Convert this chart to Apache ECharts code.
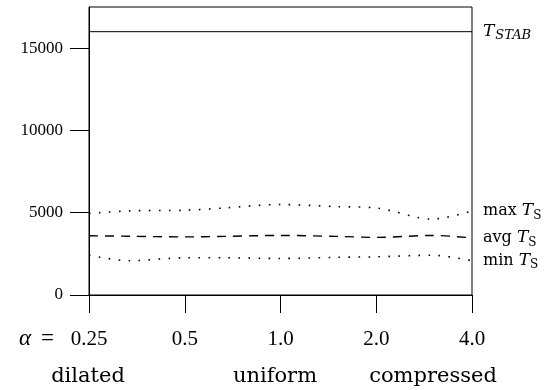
<!DOCTYPE html>
<html>
<head>
<meta charset="utf-8">
<script src="https://cdn.jsdelivr.net/npm/echarts@6/dist/echarts.min.js"></script>
<style>
  html, body { margin: 0; padding: 0; background: #fff; }
  #chart1 { width: 549px; height: 390px; }
</style>
</head>
<body>
<div id="chart1"></div>
<script>
// alpha values where T_S was measured (log2 spaced axis)
const alphas = [0.25, 1 / 3, 0.5, 2 / 3, 1, 1.5, 2, 3, 4];
const maxTs = [4950, 5110, 5150, 5290, 5500, 5370, 5290, 4610, 5100];
const avgTs = [3600, 3570, 3530, 3560, 3620, 3560, 3500, 3620, 3470];
const minTs = [2420, 2080, 2260, 2260, 2220, 2290, 2320, 2420, 2080];
const tStab = 16000;

const xTickValues = [0.25, 0.5, 1, 2, 4];
const xTickLabels = ['0.25', '0.5', '1.0', '2.0', '4.0'];
const yTickValues = [0, 5000, 10000, 15000];
const regimeLabels = ['dilated', 'uniform', 'compressed'];

let option;
let chart1;

const serif = 'Liberation Serif';
const wideSerif = 'DejaVu Serif';

const pairs = (ys) => alphas.map((a, i) => [a, ys[i]]);

const endLabel = (name) => ({
    show: true,
    distance: 11,
    formatter: '{n|' + name + ' }{t|T}{s|S}',
    rich: {
        n: { fontFamily: wideSerif, fontSize: 16, color: '#000' },
        t: { fontFamily: wideSerif, fontStyle: 'italic', fontSize: 17, color: '#000' },
        s: { fontFamily: wideSerif, fontSize: 12, color: '#000', padding: [9, 0, 0, 0] }
    }
});

const getOptionChart1 = () => {
    return {
        animation: false,
        grid: {
            left: 89, right: 77, top: 7, bottom: 95,
            show: true, borderColor: '#000', borderWidth: 1,
            outerBoundsMode: 'none'
        },
        xAxis: {
            type: 'log',
            logBase: 2,
            min: 0.25,
            max: 4,
            axisLine: { lineStyle: { color: '#000', width: 1 } },
            axisTick: { show: true, length: 18, lineStyle: { color: '#000' }, customValues: xTickValues },
            axisLabel: {
                customValues: xTickValues,
                margin: 34,
                fontFamily: serif,
                fontSize: 21,
                color: '#000',
                formatter: (v) => {
                    const i = xTickValues.findIndex(t => Math.abs(t - v) < 1e-6);
                    return i >= 0 ? xTickLabels[i] : '';
                }
            },
            splitLine: { show: false },
            minorTick: { show: false }
        },
        yAxis: {
            type: 'value',
            min: 0,
            max: 17500,
            interval: 5000,
            axisLine: { show: true, lineStyle: { color: '#000', width: 1 } },
            axisTick: { show: true, length: 19, lineStyle: { color: '#000' }, customValues: yTickValues },
            axisLabel: {
                customValues: yTickValues,
                margin: 26,
                fontFamily: serif,
                fontSize: 17,
                color: '#000',
                formatter: (v) => String(v)
            },
            splitLine: { show: false }
        },
        graphic: [
            {
                type: 'text', left: 19, top: 327,
                style: {
                    text: '{a|α}{e|=}',
                    rich: {
                        a: { fontFamily: serif, fontStyle: 'italic', fontSize: 23 },
                        e: { fontFamily: serif, fontSize: 23, padding: [0, 0, 0, 10] }
                    },
                    font: '21px ' + serif, fill: '#000'
                }
            },
            ...regimeLabels.map((t, i) => ({
                type: 'text',
                x: [88, 275, 433][i], y: 377,
                style: {
                    text: t, font: '21px ' + wideSerif, fill: '#000',
                    align: 'center', verticalAlign: 'middle'
                }
            }))
        ],
        series: [
            {
                name: 'T_STAB', type: 'line', symbol: 'none',
                data: [[alphas[0], tStab], [alphas[alphas.length - 1], tStab]],
                lineStyle: { color: '#000', width: 1 },
                endLabel: {
                    show: true, distance: 11,
                    formatter: '{t|T}{s|STAB}',
                    rich: {
                        t: { fontFamily: wideSerif, fontStyle: 'italic', fontSize: 17, color: '#000' },
                        s: { fontFamily: wideSerif, fontStyle: 'italic', fontSize: 13, color: '#000', padding: [8, 0, 0, 1] }
                    }
                }
            },
            {
                name: 'max', type: 'line', symbol: 'none', smooth: 0.3,
                data: pairs(maxTs),
                lineStyle: { color: '#000', width: 1.6, type: [1.6, 8.4], cap: 'butt' },
                endLabel: endLabel('max')
            },
            {
                name: 'avg', type: 'line', symbol: 'none', smooth: 0.3,
                data: pairs(avgTs),
                lineStyle: { color: '#000', width: 1.4, type: [9, 7] },
                endLabel: endLabel('avg')
            },
            {
                name: 'min', type: 'line', symbol: 'none', smooth: 0.3,
                data: pairs(minTs),
                lineStyle: { color: '#000', width: 1.6, type: [1.6, 8.4], cap: 'butt' },
                endLabel: endLabel('min')
            }
        ]
    };
};

const initCharts = () => {
    chart1 = echarts.init(document.getElementById('chart1'));
    option = getOptionChart1();
    chart1.setOption(option);
};

document.addEventListener('DOMContentLoaded', function () {
    initCharts();
});

window.addEventListener('resize', function () {
    chart1.resize();
});
</script>
</body>
</html>
